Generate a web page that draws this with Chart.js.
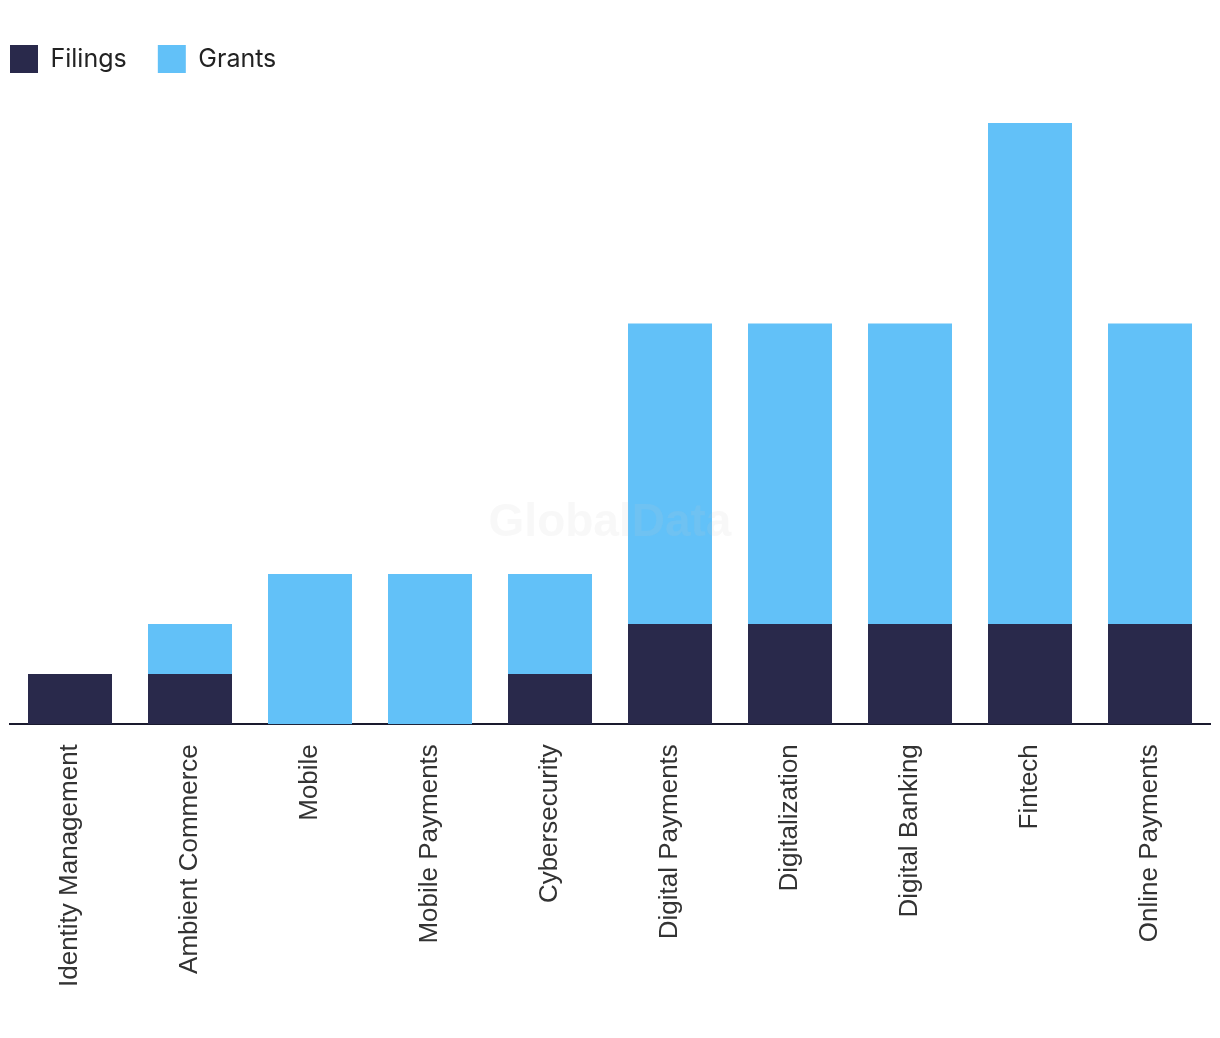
<!DOCTYPE html>
<html lang="en">
<head>
  <meta charset="UTF-8" />
  <title>Filings and Grants by theme</title>
  <script src="https://cdn.jsdelivr.net/npm/chart.js"></script>
  <style>
    html, body { margin: 0; padding: 0; background: #fff; }
    .chart-wrapper { width: 1220px; height: 1038px; position: relative; }
  </style>
</head>
<body>

<div class="chart-wrapper">
  <canvas id="chartThemes"></canvas>
</div>

<script>
  const categories = ['Identity Management', 'Ambient Commerce', 'Mobile', 'Mobile Payments', 'Cybersecurity',
                      'Digital Payments', 'Digitalization', 'Digital Banking', 'Fintech', 'Online Payments'];
  const filings = [1, 1, 0, 0, 1, 2, 2, 2, 2, 2];
  const grants  = [0, 1, 3, 3, 2, 6, 6, 6, 10, 6];

  // extra space under the legend
  const legendMargin = {
    id: 'legendMargin',
    beforeInit(chart) {
      const fit = chart.legend.fit;
      chart.legend.fit = function () {
        fit.bind(chart.legend)();
        this.height += 40;
      };
    }
  };

  // faint watermark over the bars
  const watermark = {
    id: 'watermark',
    afterDatasetsDraw(chart) {
      const { ctx, chartArea } = chart;
      ctx.save();
      ctx.font = 'bold 46px "Liberation Sans", Arial, sans-serif';
      ctx.fillStyle = 'rgba(200,200,200,0.13)';
      ctx.textAlign = 'center';
      ctx.textBaseline = 'middle';
      ctx.fillText('GlobalData', (chartArea.left + chartArea.right) / 2, chart.scales.y.getPixelForValue(4));
      ctx.restore();
    }
  };

  const ctx = document.getElementById('chartThemes').getContext('2d');
  new Chart(ctx, {
    type: 'bar',
    data: {
      labels: categories,
      datasets: [
        { label: 'Filings', data: filings, backgroundColor: '#29294b' },
        { label: 'Grants', data: grants, backgroundColor: '#62c1f8' }
      ]
    },
    options: {
      responsive: true,
      maintainAspectRatio: false,
      animation: false,
      layout: { padding: { top: 35, right: 10, bottom: 39, left: 0 } },
      datasets: { bar: { categoryPercentage: 1, barPercentage: 0.7 } },
      plugins: {
        legend: {
          position: 'top',
          align: 'start',
          labels: {
            boxWidth: 28,
            boxHeight: 28,
            padding: 10,
            color: '#222',
            font: { family: 'Inter, "Liberation Sans", sans-serif', size: 25 },
            generateLabels(chart) {
              const items = Chart.defaults.plugins.legend.labels.generateLabels(chart);
              items.forEach(it => { it.text = it.text + '   '; it.lineWidth = 0; });
              return items;
            }
          }
        },
        tooltip: { enabled: false },
        title: { display: false }
      },
      scales: {
        x: {
          stacked: true,
          grid: { display: false },
          border: { display: true, color: '#1a1a2e', width: 2 },
          ticks: {
            autoSkip: false,
            minRotation: 90,
            maxRotation: 90,
            padding: 12,
            color: '#333',
            font: { family: '"Liberation Sans", Arial, sans-serif', size: 26 }
          }
        },
        y: {
          stacked: true,
          min: 0,
          max: 12,
          grid: { display: false },
          border: { display: false },
          ticks: { display: false },
          afterFit: scale => { scale.width = 10; }
        }
      }
    },
    plugins: [legendMargin, watermark]
  });
</script>
</body>
</html>
